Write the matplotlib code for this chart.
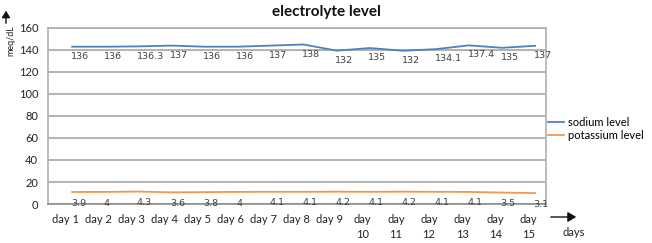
import matplotlib
matplotlib.use('Agg')
import matplotlib.pyplot as plt

# category labels
days = ['day 1', 'day 2', 'day 3', 'day 4', 'day 5', 'day 6', 'day 7', 'day 8', 'day 9',
        'day\n10', 'day\n11', 'day\n12', 'day\n13', 'day\n14', 'day\n15']

# values written as data labels
sodium_labels = [136, 136, 136.3, 137, 136, 136, 137, 138, 132, 135, 132, 134.1, 137.4, 135, 137]
potassium_labels = [3.9, 4, 4.3, 3.6, 3.8, 4, 4.1, 4.1, 4.2, 4.1, 4.2, 4.1, 4.1, 3.5, 3.1]

# where the lines are actually drawn
sodium_line = [143, 143, 143.3, 144, 143, 143, 144, 145, 139.4, 141.8, 139.3, 140.8, 144.2, 142, 143.8]
potassium_line = [10.9, 11, 11.3, 10.6, 10.8, 11, 11.1, 11.1, 11.2, 11.1, 11.2, 11.1, 11.0, 10.4, 9.9]

plt.rcParams['font.family'] = ['Lato', 'DejaVu Sans']

fig = plt.figure(figsize=(6.52, 2.43), dpi=100)
ax = fig.add_axes([48/652, 39/243, 498/652, 176/243])

x = list(range(len(days)))
ax.plot(x, sodium_line, color='#4f81bd', lw=1.3, label='sodium level')
ax.plot(x, potassium_line, color='#f79646', lw=1.3, label='potassium level')

for i, v in enumerate(sodium_labels):
    ax.annotate(str(v), (i, v), xytext=(-1, -1.5), textcoords='offset points',
                ha='left', va='center', fontsize=6.8, color='#404040', family='DejaVu Sans')
for i, v in enumerate(potassium_labels):
    ax.annotate(str(v), (i, v), xytext=(-1, -2.5), textcoords='offset points',
                ha='left', va='center', fontsize=6.8, color='#404040', family='DejaVu Sans')

ax.set_xlim(-0.73, 14.33)
ax.set_ylim(0, 160)
ax.set_yticks(range(0, 161, 20))
ax.set_xticks([i - 0.21 for i in x])
ax.set_xticklabels(days, linespacing=1.5)
ax.tick_params(axis='both', length=0, labelsize=8, colors='#222222')
ax.tick_params(axis='x', pad=7)
ax.tick_params(axis='y', pad=7)
ax.grid(axis='y', color='#a6a6a6', lw=1.2)
ax.set_axisbelow(True)
for s in ['top', 'right', 'left']:
    ax.spines[s].set_color('#b0b0b0')
    ax.spines[s].set_linewidth(1.2)
ax.spines['bottom'].set_color('#8c8c8c')
ax.spines['bottom'].set_linewidth(1.2)

fig.text(0.5, 1 - 12/243, 'electrolyte level', ha='center', va='center',
         fontsize=11, fontweight='bold', color='#111111')

# y-axis arrow and unit
fig.text(11/652, 1 - 41/243, 'meq/dL', rotation=90, ha='center', va='center', fontsize=6.5, color='#222222')
fig.add_artist(matplotlib.patches.FancyArrowPatch((6/652, 1 - 26/243), (6/652, 1 - 8/243),
               transform=fig.transFigure, arrowstyle='-|>,head_length=4,head_width=2.5',
               color='#111111', lw=1.0))

# x-axis arrow and label
fig.add_artist(matplotlib.patches.FancyArrowPatch((548/652, 1 - 217/243), (579/652, 1 - 217/243),
               transform=fig.transFigure, arrowstyle='-|>,head_length=5,head_width=3',
               color='#111111', lw=1.0))
fig.text(574/652, 1 - 232/243, 'days', ha='center', va='center', fontsize=8, color='#222222')

fig.legend(loc='center left', bbox_to_anchor=(548/652, 1 - 129/243), frameon=False,
           fontsize=8, handlelength=1.4, handletextpad=0.4, labelspacing=0.2,
           borderaxespad=0, borderpad=0)

fig.savefig('out.png', dpi=100)
